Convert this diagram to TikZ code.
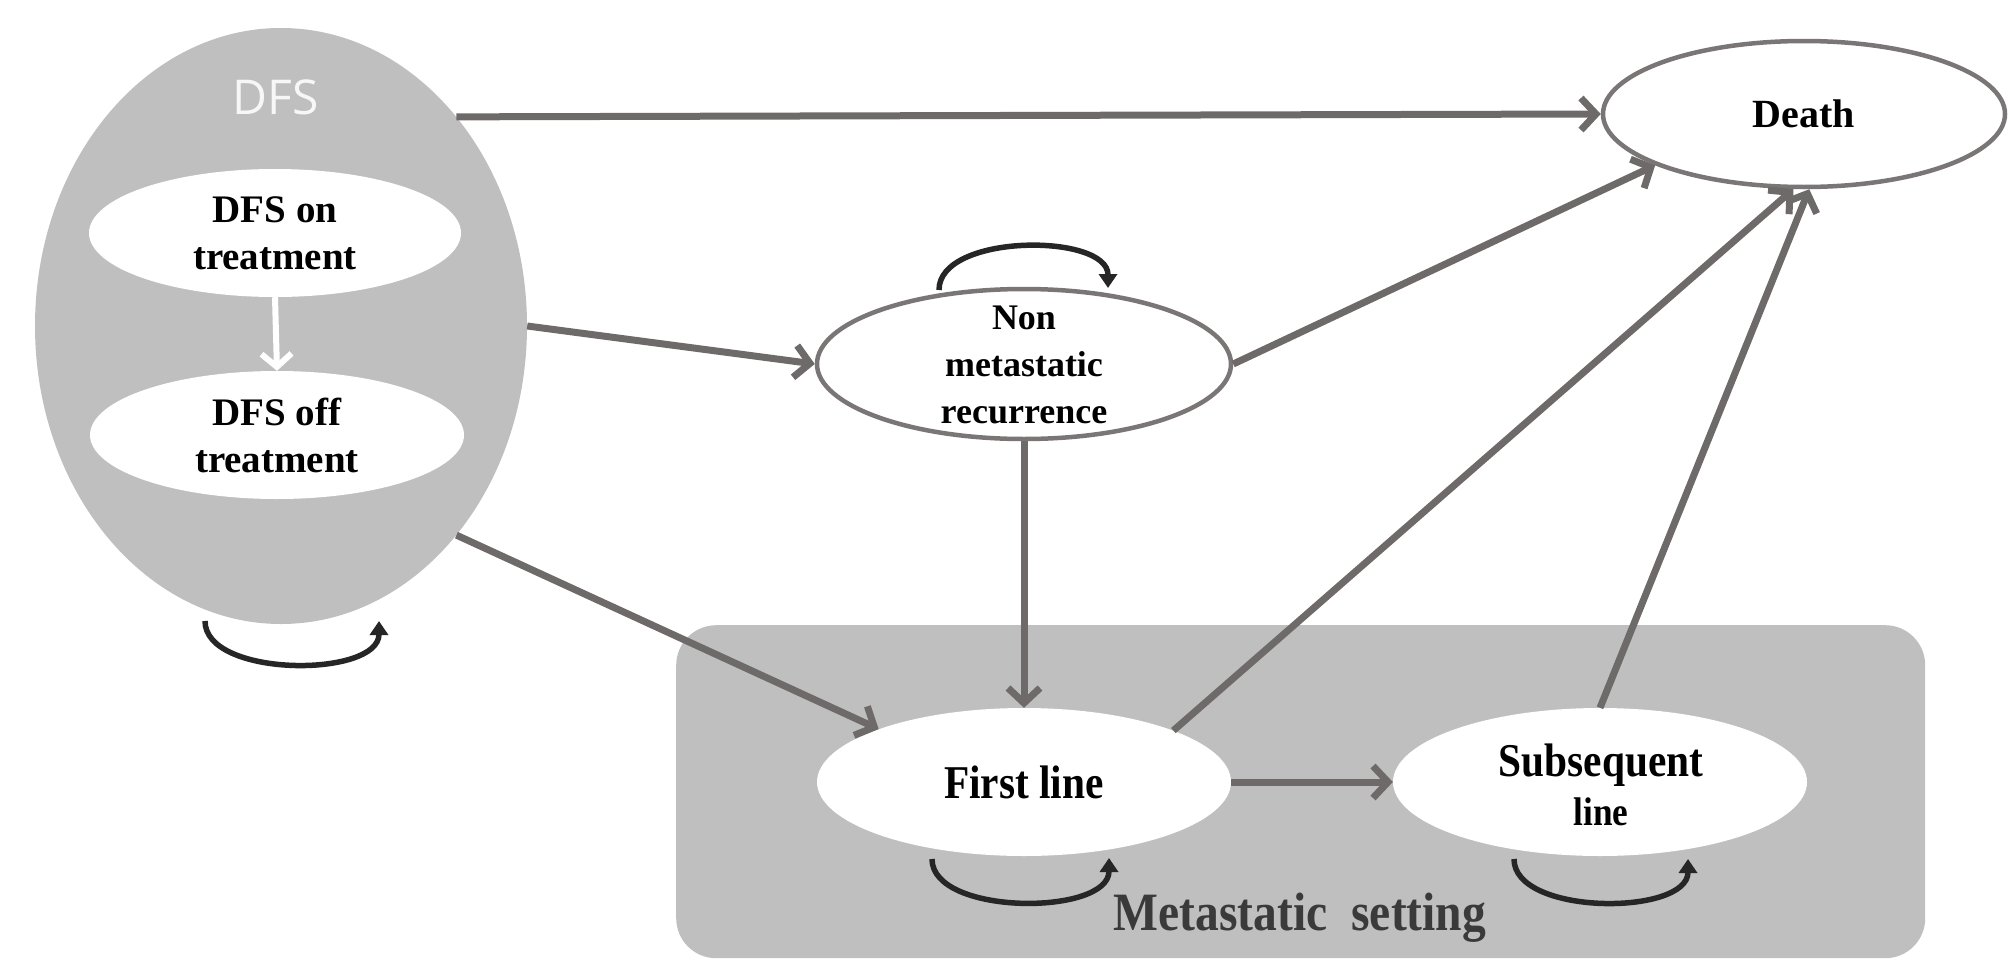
\documentclass[tikz,border=0pt]{standalone}
\usepackage{fontspec}
\setmainfont{Liberation Serif}
\newfontfamily\dfsfont{Open Sans}
\newfontfamily\condserif[FakeStretch=0.88]{Liberation Serif}
\usetikzlibrary{shapes.geometric,arrows.meta}
\definecolor{bggray}{HTML}{BFBFBF}
\definecolor{conngray}{HTML}{6E6A6A}
\definecolor{edgegray}{HTML}{7A7676}
\definecolor{loopblack}{HTML}{262626}
\definecolor{metatext}{HTML}{3A3A3A}
\begin{document}
\begin{tikzpicture}[x=1pt,y=-1pt,
  oval/.style={ellipse, inner sep=0pt},
  lbl/.style={align=center, inner sep=0pt, font=\bfseries\fontsize{39}{47}\selectfont},
  condlbl/.style={align=center, inner sep=0pt, font=\condserif\bfseries\fontsize{47}{49}\selectfont},
  conn/.style={draw=conngray, line width=7pt, -{Straight Barb[length=15pt,width=32pt]}},
  loopar/.style={draw=loopblack, line width=5.5pt, -{Triangle[length=14pt,width=18pt]}}]
\useasboundingbox (0,0) rectangle (2008,961);

% DFS group
\node[oval, fill=bggray, minimum width=492pt, minimum height=596pt] (dfs) at (281,326) {};
\node[text=white!97!black, inner sep=0pt, font=\dfsfont\fontsize{48}{54}\selectfont] (dfslbl) at (276,97) {DFS};
\node[oval, fill=white, minimum width=372pt, minimum height=128pt] (on) at (275,233) {};
\node[oval, fill=white, minimum width=374pt, minimum height=128pt] (off) at (277,435) {};
\node[lbl] (ontxt) at (on.center) {DFS on\\treatment};
\node[lbl] (offtxt) at (off.center) {DFS off\\treatment};
\draw[white, line width=6pt, -{Straight Barb[length=13pt,width=30pt]}] (on.south) -- (off.north);

% Metastatic setting box
\node[fill=bggray, rounded corners=40pt, minimum width=1249pt, minimum height=333pt, anchor=north west, inner sep=0pt] (meta) at (676,625) {};
\node[oval, fill=white, minimum width=414pt, minimum height=148pt] (first) at (1024,782) {};
\node[oval, fill=white, minimum width=414pt, minimum height=148pt] (sub) at (1600,782) {};
\node[condlbl] (firsttxt) at (first.center) {First line};
\node[condlbl] (subtxt) at (1601,785) {Subsequent\\{\fontsize{40}{47}\selectfont line}};
\node[inner sep=0pt, text=metatext, font=\condserif\bfseries\fontsize{54}{58}\selectfont] (metatxt) at (1300,918) {Metastatic~~setting};

% Death and non metastatic recurrence
\node[oval, draw=edgegray, line width=4.5pt, fill=white, minimum width=402pt, minimum height=146pt] (death) at (1804,114) {};
\node[lbl, font=\bfseries\fontsize{40}{47}\selectfont] (deathtxt) at (death.center) {Death};
\node[oval, draw=edgegray, line width=4.5pt, fill=white, minimum width=414pt, minimum height=150pt] (non) at (1024,364) {};
\node[lbl, font=\bfseries\fontsize{36}{47}\selectfont] (nontxt) at (1024,365) {Non\\metastatic\\recurrence};

% transitions
\draw[conn] (dfs.50) -- (death.west);
\draw[conn] (dfs.east) -- (non.west);
\draw[conn] (dfs.-50) -- (first.160);
\draw[conn] (non.south) -- (first.north);
\draw[conn] (non.east) -- (death.199);
\draw[conn] (first.19) -- (death.262);
\draw[conn] (sub.north) -- (death.274);
\draw[conn] (first.east) -- (sub.west);

% self loops
\coordinate (l1a) at (205,621); \coordinate (l1b) at (379,621);
\coordinate (l2a) at (939,290); \coordinate (l2b) at (1108,288);
\coordinate (l3a) at (932,859); \coordinate (l3b) at (1109,858);
\coordinate (l4a) at (1514,859); \coordinate (l4b) at (1688,859);
\draw[loopar] (l1a) .. controls (205,678) and (379,678) .. (l1b);
\draw[loopar] (l2a) .. controls (939,233) and (1108,233) .. (l2b);
\draw[loopar] (l3a) .. controls (932,916) and (1109,916) .. (l3b);
\draw[loopar] (l4a) .. controls (1514,916) and (1688,916) .. (l4b);
\end{tikzpicture}
\end{document}
